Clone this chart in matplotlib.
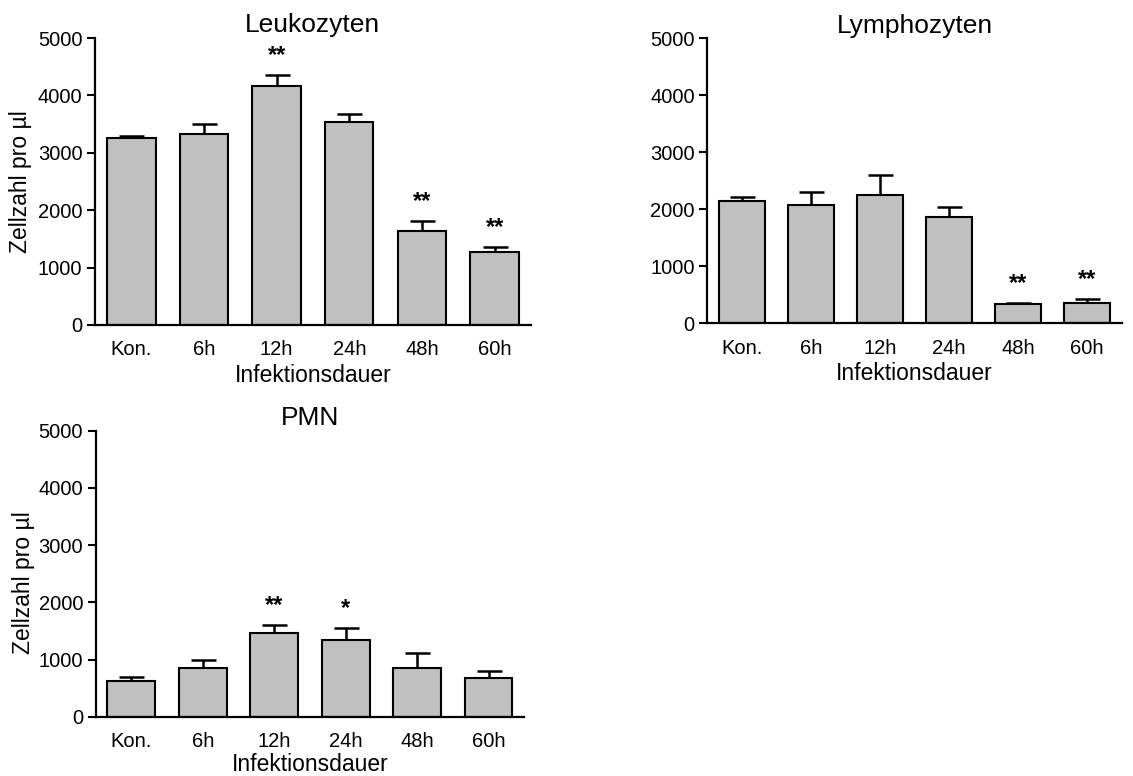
import matplotlib
matplotlib.use('Agg')
import matplotlib.pyplot as plt
import numpy as np

plt.rcParams['font.family'] = ['Liberation Sans', 'DejaVu Sans']

categories = ['Kon.', '6h', '12h', '24h', '48h', '60h']

leuko_mean = [3250, 3320, 4165, 3540, 1630, 1280]
leuko_sem = [40, 180, 190, 140, 175, 85]
leuko_sig = ['', '', '**', '', '**', '**']

lympho_mean = [2150, 2080, 2255, 1865, 345, 355]
lympho_sem = [70, 225, 345, 175, 15, 70]
lympho_sig = ['', '', '', '', '**', '**']

pmn_mean = [630, 857, 1458, 1341, 860, 682]
pmn_sem = [70, 140, 145, 210, 255, 122]
pmn_sig = ['', '', '**', '*', '', '']


def bar_panel(ax, mean, sem, sig, title, ylabel=True, ylab_x=-0.145, ylab_y=0.5,
              xlab_y=-0.135):
    x = np.arange(len(categories))
    mean = np.array(mean)
    sem = np.array(sem)

    ax.errorbar(x, mean, yerr=[np.zeros_like(sem), sem], fmt='none',
                ecolor='black', elinewidth=1.8, capsize=9, capthick=1.8, zorder=1)
    ax.bar(x, mean, width=0.667, color='#c0c0c0', edgecolor='black',
           linewidth=1.5, zorder=2)

    # significance stars above the error bars
    for xi, top, s in zip(x, mean + sem, sig):
        if s:
            ax.annotate(s, (xi, top), xytext=(0, 14), textcoords='offset points',
                        ha='center', va='center', fontsize=17, fontweight='bold')

    ax.set_xlim(-0.5, 5.5)
    ax.set_ylim(0, 5000)
    ax.set_yticks([0, 1000, 2000, 3000, 4000, 5000])
    ax.set_xticks(x)
    ax.set_xticklabels(categories)
    ax.tick_params(axis='x', length=0, pad=11, labelsize=14.5)
    ax.tick_params(axis='y', length=6, width=1.5, pad=3, labelsize=14.5)

    for side in ['top', 'right']:
        ax.spines[side].set_visible(False)
    for side in ['left', 'bottom']:
        ax.spines[side].set_linewidth(1.6)

    ax.set_title(title, fontsize=19, pad=4)
    ax.set_xlabel('Infektionsdauer', fontsize=16.5)
    ax.xaxis.set_label_coords(0.5, xlab_y)
    if ylabel:
        ax.set_ylabel('Zellzahl pro µl', fontsize=16.5)
        ax.yaxis.set_label_coords(ylab_x, ylab_y)


fig = plt.figure(figsize=(11.33, 7.76), dpi=100)

ax1 = fig.add_axes([0.0838, 0.5812, 0.3848, 0.3698])
ax2 = fig.add_axes([0.6243, 0.5834, 0.3658, 0.3673])
ax3 = fig.add_axes([0.0843, 0.0764, 0.3785, 0.3686])

bar_panel(ax1, leuko_mean, leuko_sem, leuko_sig, 'Leukozyten')
bar_panel(ax2, lympho_mean, lympho_sem, lympho_sig, 'Lymphozyten', ylabel=False)
bar_panel(ax3, pmn_mean, pmn_sem, pmn_sig, 'PMN', ylab_x=-0.141, ylab_y=0.47,
          xlab_y=-0.127)

fig.savefig('out.png', dpi=100)
